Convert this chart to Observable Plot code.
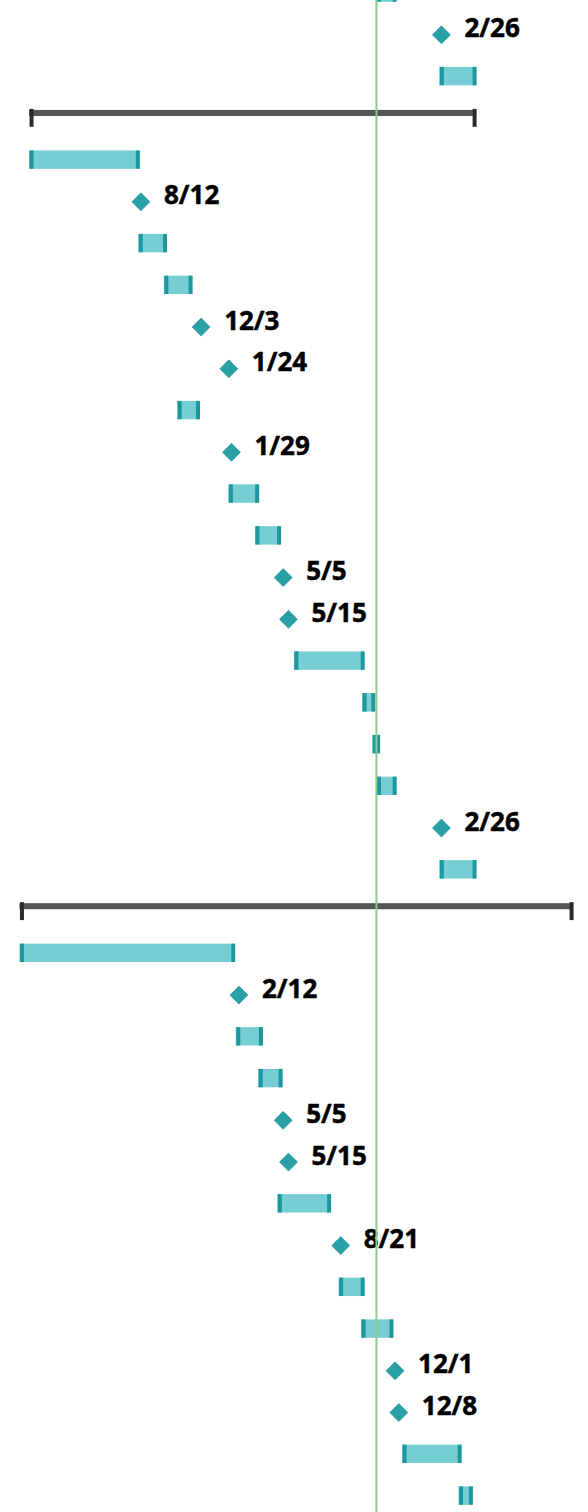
<!DOCTYPE html>
<html>
<head>
<meta charset="utf-8">
<script src="https://cdn.jsdelivr.net/npm/d3@7"></script>
<script src="https://cdn.jsdelivr.net/npm/@observablehq/plot@0.6"></script>
<style>
html, body { margin: 0; padding: 0; background: #fff; overflow: hidden; }
#chart svg { display: block; }
</style>
</head>
<body>
<div id="chart"></div>
<script>
// Task bars (row index, start, end)
const barRows   = [0, 2, 4, 6, 7, 10, 12, 13, 16, 17, 18, 19, 21, 23, 25, 26, 29, 31, 32, 35, 36];
const barStarts = ["2024-10-28", "2025-02-23", "2023-01-15", "2023-08-08", "2023-09-25", "2023-10-20",
                   "2024-01-24", "2024-03-14", "2024-05-26", "2024-10-01", "2024-10-20", "2024-10-28",
                   "2025-02-23", "2022-12-28", "2024-02-07", "2024-03-20", "2024-04-25", "2024-08-18",
                   "2024-09-29", "2024-12-15", "2025-03-31"];
const barEnds   = ["2024-12-04", "2025-05-03", "2023-08-10", "2023-09-30", "2023-11-17", "2023-12-01",
                   "2024-03-21", "2024-05-01", "2024-10-05", "2024-10-25", "2024-11-03", "2024-12-04",
                   "2025-05-03", "2024-02-05", "2024-03-28", "2024-05-04", "2024-08-03", "2024-10-05",
                   "2024-11-28", "2025-04-05", "2025-04-26"];

// Milestones (row index, date, label)
const milestoneRows   = [1, 5, 8, 9, 11, 14, 15, 20, 24, 27, 28, 30, 33, 34];
const milestoneDates  = ["2025-02-26", "2023-08-12", "2023-12-03", "2024-01-24", "2024-01-29", "2024-05-05",
                         "2024-05-15", "2025-02-26", "2024-02-12", "2024-05-05", "2024-05-15", "2024-08-21",
                         "2024-12-01", "2024-12-08"];
const milestoneLabels = ["2/26", "8/12", "12/3", "1/24", "1/29", "5/5", "5/15", "2/26", "2/12", "5/5",
                         "5/15", "8/21", "12/1", "12/8"];

// Summary bars
const summaryRows   = [3, 22];
const summaryStarts = ["2023-01-15", "2022-12-28"];
const summaryEnds   = ["2025-05-03", "2025-11-01"];

// Today marker
const today = "2024-10-27";

const bars = barRows.map((row, i) => ({row, start: new Date(barStarts[i]), end: new Date(barEnds[i])}));
const milestones = milestoneRows.map((row, i) => ({row, date: new Date(milestoneDates[i]), label: milestoneLabels[i]}));
const summaries = summaryRows.map((row, i) => ({row, start: new Date(summaryStarts[i]), end: new Date(summaryEnds[i])}));

// rotated-square symbol whose half-diagonal equals the dot radius
const rhombus = {
  draw(context, size) {
    const s = Math.sqrt(size / Math.PI);
    context.moveTo(0, -s);
    context.lineTo(s, 0);
    context.lineTo(0, s);
    context.lineTo(-s, 0);
    context.closePath();
  }
};

const H = 0.22;
const chart = Plot.plot({
  width: 588,
  height: 1512,
  margin: 0,
  style: {background: "#fff", overflow: "hidden"},
  x: {type: "utc", domain: [new Date("2022-12-29"), new Date("2025-10-30")], range: [20, 572], axis: null},
  y: {type: "linear", domain: [0, 36], range: [-7.4, 1495.6], axis: null},
  marks: [
    // summary bars
    Plot.rect(summaries, {x1: "start", x2: "end", y1: d => d.row - 0.19, y2: d => d.row - 0.045, fill: "#555555"}),
    Plot.ruleX(summaries, {x: "start", y1: d => d.row - 0.215, y2: d => d.row + 0.215, stroke: "#2b2b2b", strokeWidth: 4, dx: 2}),
    Plot.ruleX(summaries, {x: "end", y1: d => d.row - 0.215, y2: d => d.row + 0.215, stroke: "#2b2b2b", strokeWidth: 4, dx: -2}),
    // task bars
    Plot.rect(bars, {x1: "start", x2: "end", y1: d => d.row - H, y2: d => d.row + H, fill: "#76cdd4"}),
    Plot.ruleX(bars, {x: "start", y1: d => d.row - H, y2: d => d.row + H, stroke: "#1a989e", strokeWidth: 4, dx: 2}),
    Plot.ruleX(bars, {x: "end", y1: d => d.row - H, y2: d => d.row + H, stroke: "#1a989e", strokeWidth: 4, dx: -2}),
    // milestones
    Plot.dot(milestones, {x: "date", y: "row", symbol: rhombus, r: 9, fill: "#28a0a6", stroke: "#1d8d93", strokeWidth: 0.6}),
    Plot.text(milestones, {x: "date", y: "row", text: "label", textAnchor: "start", lineAnchor: "bottom",
      dx: 23, dy: 2.5, fontSize: 26, fontWeight: "bold", fontFamily: "'Open Sans', sans-serif",
      fill: "#000", stroke: "#000", strokeWidth: 0.5}),
    // today line
    Plot.ruleX([new Date(today)], {stroke: "#8fc98b", strokeWidth: 2})
  ]
});
document.getElementById("chart").appendChild(chart);
</script>
</body>
</html>
